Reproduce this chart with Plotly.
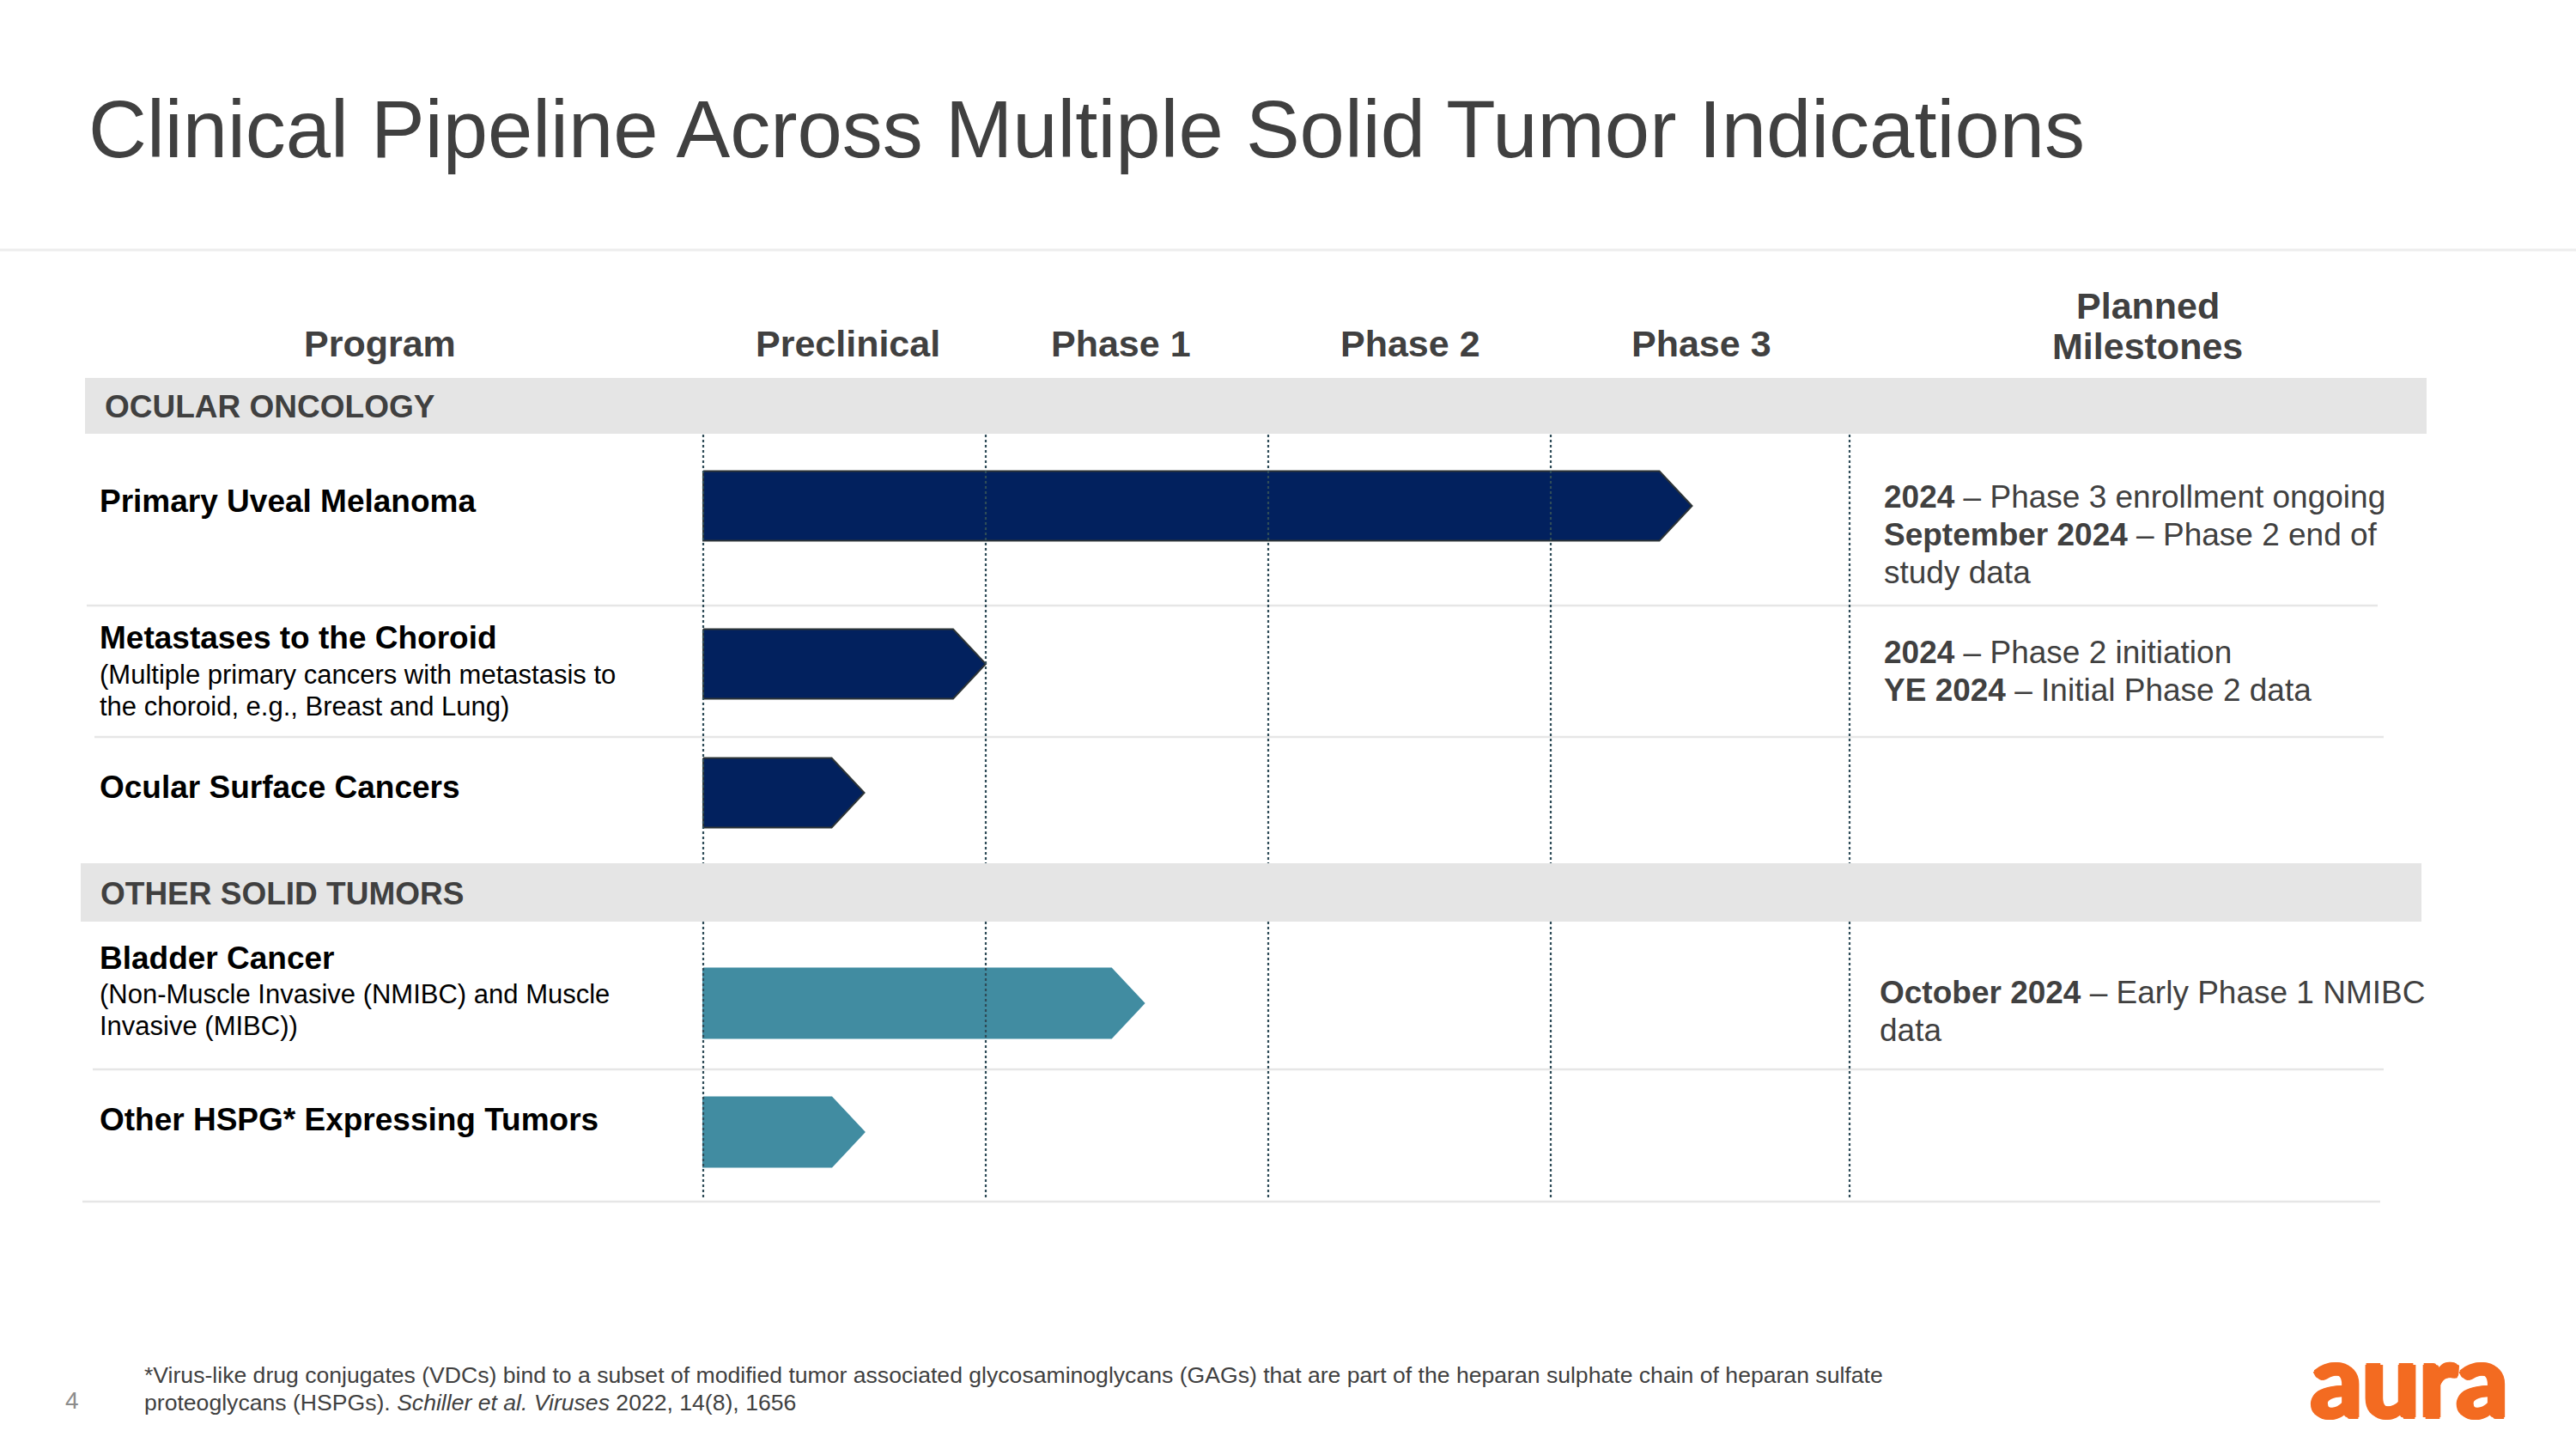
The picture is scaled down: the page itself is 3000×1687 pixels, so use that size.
import plotly.graph_objects as go

# ---------------- data ----------------
TITLE = "Clinical Pipeline Across Multiple Solid Tumor Indications"
COLUMN_HEADERS = ["Program", "Preclinical", "Phase 1", "Phase 2", "Phase 3", "Planned<br>Milestones"]
PHASES = ["Preclinical", "Phase 1", "Phase 2", "Phase 3"]
GROUPS = ["OCULAR ONCOLOGY", "OTHER SOLID TUMORS"]
PROGRAMS = [
    "Primary Uveal Melanoma",
    "Metastases to the Choroid",
    "Ocular Surface Cancers",
    "Bladder Cancer",
    "Other HSPG* Expressing Tumors",
]
PROGRAM_GROUP = [0, 0, 0, 1, 1]
PROGRAM_NOTES = [
    [],
    ["(Multiple primary cancers with metastasis to", "the choroid, e.g., Breast and Lung)"],
    [],
    ["(Non-Muscle Invasive (NMIBC) and Muscle", "Invasive (MIBC))"],
    [],
]
# progress measured in phase units (0 = start of preclinical, 1 = start of Phase 1, ...)
PROGRESS = [3.50, 1.00, 0.57, 1.56, 0.57]
MILESTONES = [
    ["<b>2024</b> – Phase 3 enrollment ongoing", "<b>September 2024</b> – Phase 2 end of", "study data"],
    ["<b>2024</b> – Phase 2 initiation", "<b>YE 2024</b> – Initial Phase 2 data"],
    [],
    ["<b>October 2024</b> – Early Phase 1 NMIBC", "data"],
    [],
]
FOOTNOTE = [
    "*Virus-like drug conjugates (VDCs) bind to a subset of modified tumor associated glycosaminoglycans (GAGs) that are part of the heparan sulphate chain of heparan sulfate",
    "proteoglycans (HSPGs). <i>Schiller et al. Viruses</i> 2022, 14(8), 1656",
]
PAGE_NUMBER = "4"
LOGO = "aura"

# ---------------- layout constants (pixels) ----------------
W, H = 3000, 1687
FONT = "Liberation Sans, Arial, sans-serif"
DARK = "#404040"
GROUP_COLORS = ["#02215E", "#418CA1"]
GROUP_LINE = ["#2d3436", "#418CA1"]
PX0 = 819            # x pixel of phase 0
PX_PER_PHASE = 329   # pixels per phase column
MILESTONE_DIV_PX = 2154
ROW_CENTER = [589, 773, 923, 1168, 1318]
NAME_Y = [583, 742, 916, 1115, 1303]
NOTE_Y0 = [None, 785, None, 1157, None]
NOTE_DY = 37
MS_X = [2192, 2192, 2192, 2187, 2192]
MS_Y0 = [578, 759, None, 1155, None]
MS_DY = 44
BAR_H = 81
TIP_PX = 38
BANDS = [(99, 2826, 440, 505), (94, 2820, 1005, 1073)]
BAND_TEXT = [(120, 473), (115, 1040)]
SEPARATORS = [(101, 2769, 705), (110, 2776, 858), (108, 2776, 1245), (96, 2772, 1399)]
DOT_SEGMENTS = [(506, 1005), (1073, 1395)]
HEADER_X = [442, 987, 1305, 1642, 1982, 2501]

def px_x(p):
    return p / W

fig = go.Figure()

# bars (chevron arrows) through the x axis in phase units
tip = TIP_PX / PX_PER_PHASE
for name, g, v, yc in zip(PROGRAMS, PROGRAM_GROUP, PROGRESS, ROW_CENTER):
    xs = [0, v - tip, v, v - tip, 0, 0]
    ys = [yc - BAR_H / 2, yc - BAR_H / 2, yc, yc + BAR_H / 2, yc + BAR_H / 2, yc - BAR_H / 2]
    fig.add_trace(go.Scatter(
        x=xs, y=ys, mode="lines", fill="toself",
        fillcolor=GROUP_COLORS[g],
        line=dict(color=GROUP_LINE[g], width=2),
        name=name, hoverinfo="name", showlegend=False,
    ))

shapes = []
shapes.append(dict(type="line", xref="paper", yref="y", x0=0, x1=1, y0=291, y1=291,
                   line=dict(color="#EDEDED", width=3), layer="below"))
for x0, x1, y0, y1 in BANDS:
    shapes.append(dict(type="rect", xref="paper", yref="y", x0=px_x(x0), x1=px_x(x1), y0=y0, y1=y1,
                       fillcolor="#E5E5E5", line=dict(width=0), layer="below"))
for x0, x1, y in SEPARATORS:
    shapes.append(dict(type="line", xref="paper", yref="y", x0=px_x(x0), x1=px_x(x1), y0=y, y1=y,
                       line=dict(color="#E6E6E6", width=2.5), layer="below"))
for y0, y1 in DOT_SEGMENTS:
    for xv in range(len(PHASES)):
        shapes.append(dict(type="line", xref="x", yref="y", x0=xv, x1=xv, y0=y0, y1=y1,
                           line=dict(color="#2F4C58", width=2.2, dash="dot"), layer="above"))
    shapes.append(dict(type="line", xref="paper", yref="y", x0=px_x(MILESTONE_DIV_PX), x1=px_x(MILESTONE_DIV_PX),
                       y0=y0, y1=y1, line=dict(color="#2F4C58", width=2.2, dash="dot"), layer="above"))

ann = []
def add_text(text, x_px, y, size, color=DARK, xanchor="left", bold=False, family=FONT, align="left", shadow=None):
    font = dict(family=family, size=size, color=color)
    if shadow:
        font["shadow"] = shadow
    ann.append(dict(text=(f"<b>{text}</b>" if bold else text), x=px_x(x_px), y=y, xref="paper", yref="y",
                    xanchor=xanchor, yanchor="middle", showarrow=False, align=align, font=font))

add_text(TITLE, 101, 150, 94)
for h, hx in zip(COLUMN_HEADERS, HEADER_X):
    parts = h.split("<br>")
    if len(parts) == 1:
        add_text(h, hx, 400, 43, xanchor="center", bold=True)
    else:
        for k, p in enumerate(parts):
            add_text(p, hx, 356 + k * 47, 43, xanchor="center", bold=True)
for gname, (tx, ty) in zip(GROUPS, BAND_TEXT):
    add_text(gname, tx, ty, 37, bold=True)
for i, name in enumerate(PROGRAMS):
    add_text(name, 114, NAME_Y[i], 37, color="#000000", bold=True)
    for k, line in enumerate(PROGRAM_NOTES[i]):
        add_text(line, 114, NOTE_Y0[i] + k * NOTE_DY, 31, color="#000000")
    for k, line in enumerate(MILESTONES[i]):
        add_text(line, MS_X[i], MS_Y0[i] + k * MS_DY, 37)
for k, line in enumerate(FOOTNOTE):
    add_text(line, 166, 1601 + k * 32, 26.6)
add_text(PAGE_NUMBER, 84, 1630, 28, color="#8C8C8C", xanchor="center")
s = "#F36B21"
add_text(LOGO, 2806, 1604, 118, color=s, xanchor="center", bold=True, family="Lato, Roboto, sans-serif",
         shadow=f"3px 0 0 {s}, -3px 0 0 {s}, 0 2px 0 {s}, 0 -2px 0 {s}, 2px 2px 0 {s}, -2px -2px 0 {s}")

x_min = -PX0 / PX_PER_PHASE
x_max = (W - PX0) / PX_PER_PHASE
fig.update_layout(
    width=W, height=H,
    margin=dict(l=0, r=0, t=0, b=0),
    paper_bgcolor="white", plot_bgcolor="white",
    xaxis=dict(range=[x_min, x_max], domain=[0, 1], visible=False, fixedrange=True),
    yaxis=dict(range=[H, 0], domain=[0, 1], visible=False, fixedrange=True),
    shapes=shapes, annotations=ann, showlegend=False,
)

fig.write_html("out.html", config={"displayModeBar": False},
               post_script="document.body.style.margin='0';document.body.style.overflow='hidden';")
